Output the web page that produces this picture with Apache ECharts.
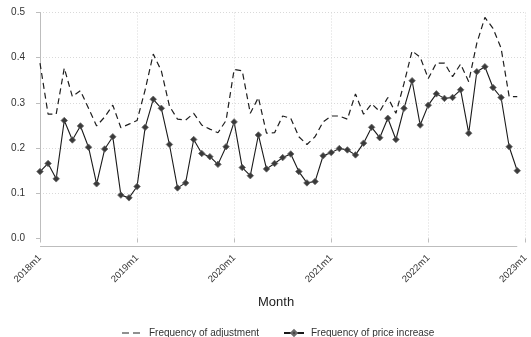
<!DOCTYPE html>
<html>
<head>
<meta charset="utf-8">
<script src="https://cdn.jsdelivr.net/npm/echarts@6/dist/echarts.min.js"></script>
<style>
html,body{margin:0;padding:0;background:#fff;}
#chart{width:531px;height:337px;}
</style>
</head>
<body>
<div id="chart"></div>
<script>
// Tick labels on the x axis (one every 12 months)
const tickLabels = ['2018m1', '2019m1', '2020m1', '2021m1', '2022m1', '2023m1'];
// Month index: 0 = 2018m1 ... 59 = 2022m12
const monthIndex = [
  0,1,2,3,4,5,6,7,8,9,10,11,
  12,13,14,15,16,17,18,19,20,21,22,23,
  24,25,26,27,28,29,30,31,32,33,34,35,
  36,37,38,39,40,41,42,43,44,45,46,47,
  48,49,50,51,52,53,54,55,56,57,58,59
];
const freqAdjustment = [
  0.388,0.275,0.275,0.377,0.314,0.327,0.288,0.249,0.269,0.295,0.245,0.253,
  0.261,0.329,0.408,0.371,0.293,0.264,0.262,0.277,0.251,0.242,0.234,0.261,
  0.374,0.371,0.277,0.312,0.233,0.234,0.271,0.266,0.225,0.208,0.225,0.258,
  0.271,0.271,0.264,0.320,0.275,0.298,0.281,0.312,0.277,0.343,0.415,0.401,
  0.354,0.388,0.388,0.358,0.386,0.347,0.432,0.489,0.465,0.421,0.314,0.314
];
const freqIncrease = [
  0.148,0.166,0.132,0.261,0.218,0.249,0.202,0.121,0.198,0.225,0.096,0.090,
  0.115,0.246,0.308,0.288,0.208,0.112,0.123,0.219,0.188,0.181,0.164,0.203,
  0.258,0.157,0.139,0.229,0.154,0.166,0.179,0.187,0.148,0.123,0.126,0.183,
  0.190,0.199,0.196,0.185,0.211,0.246,0.223,0.266,0.219,0.288,0.349,0.251,
  0.295,0.320,0.310,0.312,0.329,0.233,0.369,0.380,0.334,0.312,0.203,0.150
];
const seriesNames = ['Frequency of adjustment', 'Frequency of price increase'];

const FONT = 'Liberation Sans, Arial, Helvetica, sans-serif';
const AXIS_GRAY = '#bdbdbd';
const GRID_GRAY = '#d9d9d9';

const chart = echarts.init(document.getElementById('chart'), null, {renderer: 'canvas'});
const option = {
  animation: false,
  backgroundColor: '#ffffff',
  textStyle: {fontFamily: FONT},
  grid: {left: 40, right: 2, top: 12.5, bottom: 98.5, containLabel: false},
  xAxis: {
    type: 'value',
    min: 0, max: 60, interval: 12,
    offset: 8,
    axisLine: {show: false},
    axisTick: {show: true, length: 4, lineStyle: {color: AXIS_GRAY, width: 1}},
    axisLabel: {
      rotate: 45, margin: 10, fontSize: 9.5, color: '#333', fontFamily: FONT,
      formatter: v => tickLabels[Math.round(v / 12)]
    },
    splitLine: {show: true, lineStyle: {type: [1, 2], color: GRID_GRAY, width: 1}}
  },
  yAxis: {
    type: 'value',
    min: 0, max: 0.5, interval: 0.1,
    offset: 8,
    axisLine: {show: true, lineStyle: {color: AXIS_GRAY, width: 1}},
    axisTick: {show: true, length: 4, lineStyle: {color: AXIS_GRAY, width: 1}},
    axisLabel: {margin: 7, fontSize: 10, color: '#333', fontFamily: FONT,
      formatter: v => v.toFixed(1)},
    splitLine: {show: true, lineStyle: {type: [1, 2], width: 1,
      color: ['rgba(0,0,0,0)', GRID_GRAY, GRID_GRAY, GRID_GRAY, GRID_GRAY, GRID_GRAY]}}
  },
  legend: [
    {
      left: 122, top: 328, padding: 0,
      itemWidth: 18, itemHeight: 1.4,
      icon: 'path://M0,0H7V1H0Z M11,0H18V1H11Z',
      itemStyle: {color: '#222'},
      textStyle: {fontSize: 10, color: '#333', fontFamily: FONT, padding: [0, 0, 0, 4]},
      data: [seriesNames[0]]
    },
    {
      left: 283, top: 328, padding: 0,
      itemWidth: 20, itemHeight: 7,
      textStyle: {fontSize: 10, color: '#333', fontFamily: FONT, padding: [0, 0, 0, 2]},
      data: [seriesNames[1]]
    }
  ],
  series: [
    {
      name: seriesNames[0],
      type: 'line',
      data: monthIndex.map((m, i) => [m, freqAdjustment[i]]),
      symbol: 'none',
      lineStyle: {color: '#1e1e1e', width: 1.2, type: [6, 4]},
      itemStyle: {color: '#1e1e1e'}
    },
    {
      name: seriesNames[1],
      type: 'line',
      data: monthIndex.map((m, i) => [m, freqIncrease[i]]),
      symbol: 'diamond',
      symbolSize: 6.5,
      lineStyle: {color: '#1a1a1a', width: 1.1},
      itemStyle: {color: '#3a3a3a', borderColor: '#6a6a6a', borderWidth: 0.8}
    }
  ],
  graphic: []
};
chart.setOption(option);

// x-axis line spans the data range (first to last month), drawn from library coordinates
const p0 = chart.convertToPixel({gridIndex: 0}, [monthIndex[0], 0]);
const p1 = chart.convertToPixel({gridIndex: 0}, [monthIndex[monthIndex.length - 1], 0]);
const axisY = p0[1] + 8;
const mid = chart.convertToPixel({gridIndex: 0}, [29, 0]);
chart.setOption({
  graphic: [
    {type: 'line', shape: {x1: p0[0], y1: axisY, x2: p1[0], y2: axisY},
     style: {stroke: AXIS_GRAY, lineWidth: 1}, silent: true},
    {type: 'text', x: mid[0] + 1.5, y: 302,
     style: {text: 'Month', fontSize: 13, fill: '#222', fontFamily: FONT,
             textAlign: 'center', textVerticalAlign: 'middle'}}
  ]
});
</script>
</body>
</html>
